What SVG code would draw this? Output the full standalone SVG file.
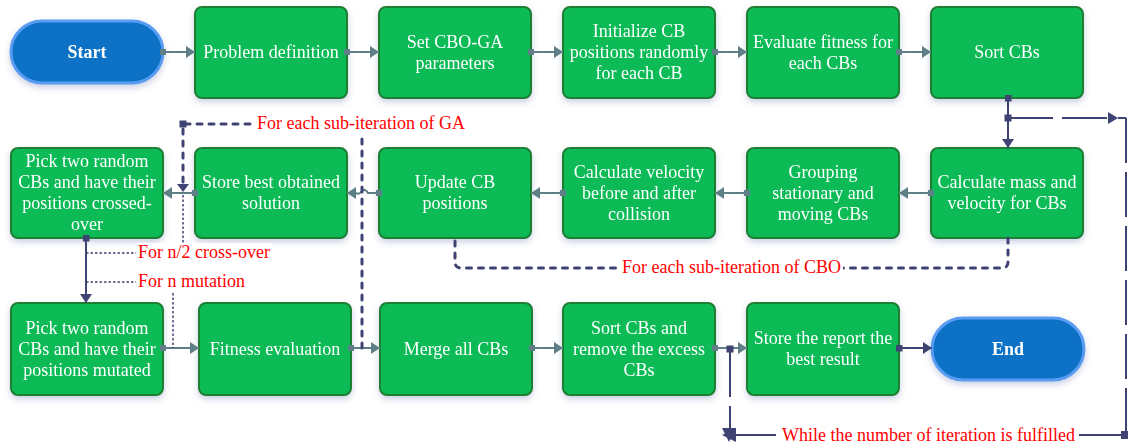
<svg xmlns="http://www.w3.org/2000/svg" width="1128" height="448" viewBox="0 0 1128 448">
<style>
.box{fill:#07bb56;stroke:#1f7f33;stroke-width:2}
.pill{fill:#0a71c6;stroke:#5a9cf2;stroke-width:3}
.t{font-family:"Liberation Serif","Times New Roman",serif;font-size:18px;fill:#ffffff;text-anchor:middle}
.b{font-weight:bold}
.r{font-family:"Liberation Serif","Times New Roman",serif;font-size:18px;fill:#ff0000}
.g{fill:none;stroke:#5f7f86;stroke-width:2}
.n{fill:none;stroke:#3f4373;stroke-width:2}
.nd{fill:none;stroke:#3f4373;stroke-width:3;stroke-dasharray:5 7;stroke-linecap:round}
.nt{fill:none;stroke:#3f4373;stroke-width:1.5;stroke-dasharray:2.5 2}
.nl{fill:none;stroke:#3f4373;stroke-width:2;stroke-dasharray:45 9}
.bg{fill:#ffffff}
</style>
<defs>
<filter id="sh" x="-20%" y="-20%" width="140%" height="150%">
<feDropShadow dx="0" dy="3" stdDeviation="3" flood-color="#5060a0" flood-opacity="0.3"/>
</filter>
<marker id="ag" viewBox="0 0 9 12" refX="9" refY="6" markerWidth="9" markerHeight="12" markerUnits="userSpaceOnUse" orient="auto"><path d="M0,0 L9,6 L0,12 z" fill="#5f7f86"/></marker>
<marker id="sg" viewBox="0 0 6 6" refX="3" refY="3" markerWidth="6" markerHeight="6" markerUnits="userSpaceOnUse"><rect width="6" height="6" fill="#5f7f86"/></marker>
<marker id="an" viewBox="0 0 9 12" refX="9" refY="6" markerWidth="9" markerHeight="12" markerUnits="userSpaceOnUse" orient="auto"><path d="M0,0 L9,6 L0,12 z" fill="#3f4373"/></marker>
<marker id="sn" viewBox="0 0 7 7" refX="3.5" refY="3.5" markerWidth="7" markerHeight="7" markerUnits="userSpaceOnUse"><rect width="7" height="7" fill="#3f4373"/></marker>
</defs>

<g id="start" filter="url(#sh)">
<rect class="pill" x="11" y="21" width="152" height="62" rx="31"/>
<text class="t b" x="87" y="58">Start</text>
</g>
<g id="problem-definition" filter="url(#sh)">
<rect class="box" x="195" y="7" width="152" height="91" rx="7"/>
<text class="t" x="271" y="58">Problem definition</text>
</g>
<g id="set-parameters" filter="url(#sh)">
<rect class="box" x="379" y="7" width="152" height="91" rx="7"/>
<text class="t" x="455"><tspan x="455" y="47.5">Set CBO-GA</tspan><tspan x="455" y="68.5">parameters</tspan></text>
</g>
<g id="initialize" filter="url(#sh)">
<rect class="box" x="563" y="7" width="152" height="91" rx="7"/>
<text class="t"><tspan x="639" y="37">Initialize CB</tspan><tspan x="639" y="58">positions randomly</tspan><tspan x="639" y="79">for each CB</tspan></text>
</g>
<g id="evaluate-fitness" filter="url(#sh)">
<rect class="box" x="747" y="7" width="152" height="91" rx="7"/>
<text class="t"><tspan x="823" y="47.5">Evaluate fitness for</tspan><tspan x="823" y="68.5">each CBs</tspan></text>
</g>
<g id="sort-cbs" filter="url(#sh)">
<rect class="box" x="931" y="7" width="152" height="91" rx="7"/>
<text class="t" x="1007" y="58">Sort CBs</text>
</g>

<g id="pick-crossover" filter="url(#sh)">
<rect class="box" x="11" y="148" width="152" height="90" rx="7"/>
<text class="t"><tspan x="87" y="167">Pick two random</tspan><tspan x="87" y="188">CBs and have their</tspan><tspan x="87" y="209">positions crossed-</tspan><tspan x="87" y="230">over</tspan></text>
</g>
<g id="store-best" filter="url(#sh)">
<rect class="box" x="195" y="148" width="152" height="90" rx="7"/>
<text class="t"><tspan x="271" y="188">Store best obtained</tspan><tspan x="271" y="209">solution</tspan></text>
</g>
<g id="update-positions" filter="url(#sh)">
<rect class="box" x="379" y="148" width="152" height="90" rx="7"/>
<text class="t"><tspan x="455" y="188">Update CB</tspan><tspan x="455" y="209">positions</tspan></text>
</g>
<g id="calc-velocity" filter="url(#sh)">
<rect class="box" x="563" y="148" width="152" height="90" rx="7"/>
<text class="t"><tspan x="639" y="177.5">Calculate velocity</tspan><tspan x="639" y="198.5">before and after</tspan><tspan x="639" y="219.5">collision</tspan></text>
</g>
<g id="grouping" filter="url(#sh)">
<rect class="box" x="747" y="148" width="152" height="90" rx="7"/>
<text class="t"><tspan x="823" y="177.5">Grouping</tspan><tspan x="823" y="198.5">stationary and</tspan><tspan x="823" y="219.5">moving CBs</tspan></text>
</g>
<g id="calc-mass" filter="url(#sh)">
<rect class="box" x="931" y="148" width="152" height="90" rx="7"/>
<text class="t"><tspan x="1007" y="188">Calculate mass and</tspan><tspan x="1007" y="209">velocity for CBs</tspan></text>
</g>

<g id="pick-mutated" filter="url(#sh)">
<rect class="box" x="11" y="303" width="152" height="92" rx="7"/>
<text class="t"><tspan x="87" y="333.5">Pick two random</tspan><tspan x="87" y="354.5">CBs and have their</tspan><tspan x="87" y="375.5">positions mutated</tspan></text>
</g>
<g id="fitness-evaluation" filter="url(#sh)">
<rect class="box" x="199" y="303" width="152" height="92" rx="7"/>
<text class="t" x="275" y="354.5">Fitness evaluation</text>
</g>
<g id="merge" filter="url(#sh)">
<rect class="box" x="380" y="303" width="152" height="92" rx="7"/>
<text class="t" x="456" y="354.5">Merge all CBs</text>
</g>
<g id="sort-remove" filter="url(#sh)">
<rect class="box" x="563" y="303" width="152" height="92" rx="7"/>
<text class="t"><tspan x="639" y="333.5">Sort CBs and</tspan><tspan x="639" y="354.5">remove the excess</tspan><tspan x="639" y="375.5">CBs</tspan></text>
</g>
<g id="store-report" filter="url(#sh)">
<rect class="box" x="747" y="303" width="152" height="92" rx="7"/>
<text class="t"><tspan x="823" y="344">Store the report the</tspan><tspan x="823" y="365">best result</tspan></text>
</g>
<g id="end" filter="url(#sh)">
<rect class="pill" x="932" y="318" width="152" height="62" rx="31"/>
<text class="t b" x="1008" y="355">End</text>
</g>

<g id="connectors">
<!-- row 1 -->
<path class="g" d="M163,52 H195" marker-start="url(#sg)" marker-end="url(#ag)"/>
<path class="g" d="M347,52 H379" marker-start="url(#sg)" marker-end="url(#ag)"/>
<path class="g" d="M531,52 H563" marker-start="url(#sg)" marker-end="url(#ag)"/>
<path class="g" d="M715,52 H747" marker-start="url(#sg)" marker-end="url(#ag)"/>
<path class="g" d="M899,52 H931" marker-start="url(#sg)" marker-end="url(#ag)"/>
<!-- Sort CBs to Calculate mass -->
<path class="n" d="M1008,98 V148" marker-start="url(#sn)" marker-end="url(#an)"/>
<!-- row 2 -->
<path class="g" d="M931,193 H899" marker-start="url(#sg)" marker-end="url(#ag)"/>
<path class="g" d="M747,193 H715" marker-start="url(#sg)" marker-end="url(#ag)"/>
<path class="g" d="M563,193 H531" marker-start="url(#sg)" marker-end="url(#ag)"/>
<path class="g" d="M379,193 H368 Q365,188 362,191 Q359,195 356,193 H347" marker-start="url(#sg)" marker-end="url(#ag)"/>
<path class="g" d="M195,193 H163" marker-start="url(#sg)" marker-end="url(#ag)"/>
<!-- crossover to mutation -->
<path class="n" d="M86,238 V303" marker-start="url(#sn)" marker-end="url(#an)"/>
<!-- row 3 -->
<path class="g" d="M163,348 H199" marker-start="url(#sg)" marker-end="url(#ag)"/>
<path class="g" d="M351,348 H380" marker-start="url(#sg)" marker-end="url(#ag)"/>
<path class="g" d="M532,348 H563" marker-start="url(#sg)" marker-end="url(#ag)"/>
<path class="g" d="M715,348 H747" marker-start="url(#sg)" marker-end="url(#ag)"/>
<path class="n" d="M899,348 H932" marker-start="url(#sn)" marker-end="url(#an)"/>

<!-- GA loop -->
<path class="nd" d="M362,348 V124 H183 V184"/>
<rect x="179.5" y="120.5" width="7" height="7" fill="#3f4373"/>
<path d="M177,184 L189,184 L183,192 z" fill="#3f4373"/>
<path class="nt" d="M183,195 V244"/>
<path class="nt" d="M86,253 H137"/>
<path class="nt" d="M86,282 H137"/>
<path class="nt" d="M173,293 V348"/>

<!-- CBO loop -->
<path class="nd" d="M1008,238 V262 Q1008,268 1002,268 H461 Q455,268 455,262 V238"/>

<!-- outer iteration loop -->
<rect x="1004.5" y="114.5" width="7" height="7" fill="#3f4373"/>
<path class="nl" d="M1008,118 H1108"/>
<path d="M1108,112 L1118,118 L1108,124 z" fill="#3f4373"/>
<path class="n" d="M1118,118 H1126"/>
<path class="nl" d="M1126,118 V432"/>
<rect x="1121" y="431" width="7" height="8" fill="#3f4373"/>
<path class="n" d="M736,435 H1122"/>
<rect x="726.5" y="345.5" width="7" height="7" fill="#3f4373"/>
<path class="nl" d="M730,352 V428"/>
<path d="M722,435 L736,428 L736,442 z" fill="#3f4373"/>
<path d="M722,428 L736,428 L729,442 z" fill="#3f4373"/>
</g>

<g id="labels">
<rect class="bg" x="255" y="113" width="213" height="21"/>
<text class="r" x="257" y="129">For each sub-iteration of GA</text>
<rect class="bg" x="136" y="243" width="136" height="20"/>
<text class="r" x="138" y="258">For n/2 cross-over</text>
<rect class="bg" x="136" y="272" width="112" height="20"/>
<text class="r" x="138" y="287">For n mutation</text>
<rect class="bg" x="619" y="257" width="224" height="21"/>
<text class="r" x="622" y="273">For each sub-iteration of CBO</text>
<rect class="bg" x="776" y="425" width="303" height="21"/>
<text class="r" x="782" y="441">While the number of iteration is fulfilled</text>
</g>
</svg>
